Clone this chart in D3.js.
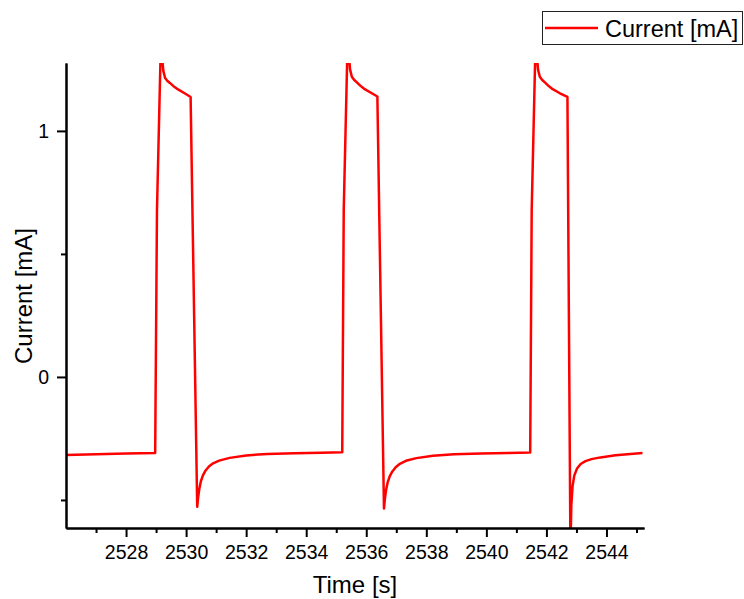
<!DOCTYPE html>
<html>
<head>
<meta charset="utf-8">
<script src="https://cdn.jsdelivr.net/npm/d3@7"></script>
<style>
  html, body { margin: 0; padding: 0; background: #fff; }
  svg { display: block; font-family: Arial, "Liberation Sans", sans-serif; }
</style>
</head>
<body>
<svg id="chart" width="744" height="599"></svg>
<script>
// Measured current during three pulse cycles
const time = [
  2526.00, 2527.00, 2528.00, 2528.97,
  2529.03, 2529.16, 2529.24, 2529.30, 2529.38, 2529.46, 2529.58, 2529.70, 2529.95, 2530.15,
  2530.37, 2530.40, 2530.44, 2530.49, 2530.56, 2530.65, 2530.76, 2530.90, 2531.10, 2531.45, 2532.00, 2532.70, 2533.60, 2534.50, 2535.20,
  2535.25, 2535.38, 2535.46, 2535.52, 2535.60, 2535.68, 2535.80, 2535.92, 2536.17, 2536.37,
  2536.59, 2536.62, 2536.66, 2536.71, 2536.78, 2536.87, 2536.98, 2537.12, 2537.32, 2537.67, 2538.22, 2538.92, 2539.82, 2540.72, 2541.46,
  2541.51, 2541.64, 2541.72, 2541.78, 2541.86, 2541.94, 2542.06, 2542.18, 2542.45, 2542.70,
  2542.80, 2542.83, 2542.87, 2542.93, 2543.02, 2543.14, 2543.30, 2543.50, 2543.80, 2544.30, 2544.80, 2545.20
];
const current = [
  -0.317, -0.314, -0.311, -0.309,
  0.68, 1.36, 1.245, 1.215, 1.203, 1.195, 1.182, 1.171, 1.153, 1.138,
  -0.528, -0.490, -0.455, -0.425, -0.400, -0.380, -0.364, -0.351, -0.340, -0.329, -0.319, -0.313, -0.310, -0.308, -0.306,
  0.68, 1.37, 1.25, 1.22, 1.207, 1.198, 1.184, 1.172, 1.154, 1.14,
  -0.535, -0.495, -0.460, -0.430, -0.404, -0.384, -0.367, -0.353, -0.341, -0.330, -0.320, -0.314, -0.311, -0.309, -0.307,
  0.68, 1.37, 1.25, 1.22, 1.207, 1.198, 1.184, 1.172, 1.153, 1.138,
  -0.70, -0.520, -0.445, -0.400, -0.372, -0.354, -0.342, -0.334, -0.327, -0.318, -0.313, -0.309
];

const xMajorTicks = [2528, 2530, 2532, 2534, 2536, 2538, 2540, 2542, 2544];
const xMinorTicks = [2527, 2529, 2531, 2533, 2535, 2537, 2539, 2541, 2543, 2545];
const yMajorTicks = [0, 1];
const yMinorTicks = [-0.5, 0.5];

const seriesName = "Current [mA]";
const xTitle = "Time [s]";
const yTitle = "Current [mA]";

const svg = d3.select("#chart");
const plotLeft = 66, plotRight = 644, plotTop = 63, plotBottom = 528;

const x = d3.scaleLinear().domain([2526.0, 2545.25]).range([plotLeft, plotRight]);
const y = d3.scaleLinear().domain([-0.614, 1.276]).range([plotBottom, plotTop]);

// Clip the trace to the plot frame
svg.append("defs").append("clipPath").attr("id", "plotClip")
  .append("rect").attr("x", plotLeft).attr("y", plotTop)
  .attr("width", plotRight - plotLeft).attr("height", plotBottom - plotTop);

const points = time.map((t, i) => [t, current[i]]);
const line = d3.line().x(d => x(d[0])).y(d => y(d[1]));

svg.append("path")
  .datum(points)
  .attr("clip-path", "url(#plotClip)")
  .attr("fill", "none")
  .attr("stroke", "#ff0000")
  .attr("stroke-width", 2.5)
  .attr("stroke-linejoin", "round")
  .attr("d", line);

// Axes
function styleAxis(g) {
  g.selectAll("path").attr("stroke", "#000").attr("stroke-width", 2);
  g.selectAll("line").attr("stroke", "#000").attr("stroke-width", 2);
  g.selectAll("text").attr("fill", "#000").style("font-size", "19.5px");
}

const xAxisMinor = svg.append("g").attr("transform", `translate(0,${plotBottom})`)
  .call(d3.axisBottom(x).tickValues(xMinorTicks).tickSize(5).tickFormat("").tickSizeOuter(0));
styleAxis(xAxisMinor);
const xAxis = svg.append("g").attr("transform", `translate(0,${plotBottom})`)
  .call(d3.axisBottom(x).tickValues(xMajorTicks).tickSize(9).tickPadding(8)
    .tickFormat(d3.format("d")).tickSizeOuter(0));
styleAxis(xAxis);

const yAxisMinor = svg.append("g").attr("transform", `translate(${plotLeft},0)`)
  .call(d3.axisLeft(y).tickValues(yMinorTicks).tickSize(5).tickFormat("").tickSizeOuter(0));
styleAxis(yAxisMinor);
const yAxis = svg.append("g").attr("transform", `translate(${plotLeft},0)`)
  .call(d3.axisLeft(y).tickValues(yMajorTicks).tickSize(9).tickPadding(8)
    .tickFormat(d3.format("d")).tickSizeOuter(0));
styleAxis(yAxis);

// Axis titles
svg.append("text")
  .attr("x", 355).attr("y", 593)
  .attr("text-anchor", "middle")
  .style("font-size", "24px")
  .text(xTitle);

svg.append("text")
  .attr("transform", `translate(32,296) rotate(-90)`)
  .attr("text-anchor", "middle")
  .style("font-size", "24px")
  .text(yTitle);

// Legend
const legend = svg.append("g");
legend.append("rect")
  .attr("x", 542.5).attr("y", 11.5).attr("width", 200).attr("height", 33)
  .attr("fill", "#fff").attr("stroke", "#222").attr("stroke-width", 1);
legend.append("line")
  .attr("x1", 545).attr("x2", 598).attr("y1", 28).attr("y2", 28)
  .attr("stroke", "#ff0000").attr("stroke-width", 2.5);
legend.append("text")
  .attr("x", 605).attr("y", 36.5)
  .style("font-size", "23.5px")
  .text(seriesName);
</script>
</body>
</html>
